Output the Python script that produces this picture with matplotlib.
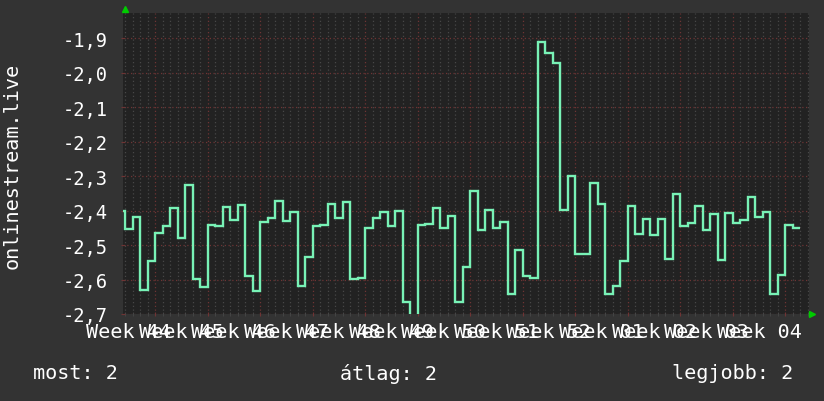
import numpy as np
import matplotlib
matplotlib.use("Agg")
import matplotlib.pyplot as plt
from matplotlib import transforms

# ---------------- data ----------------
day_start = -5  # first day index (day 0 = start of Week 45)
values = [
    -2.400, -2.453, -2.418, -2.630, -2.545,
    -2.464, -2.444, -2.391, -2.480, -2.324, -2.599, -2.623,
    -2.442, -2.444, -2.389, -2.426, -2.383, -2.589, -2.634,
    -2.432, -2.420, -2.372, -2.429, -2.404, -2.618, -2.534,
    -2.445, -2.441, -2.381, -2.420, -2.375, -2.598, -2.595,
    -2.449, -2.421, -2.403, -2.445, -2.401, -2.666, -2.705,
    -2.443, -2.440, -2.391, -2.449, -2.414, -2.666, -2.564,
    -2.344, -2.457, -2.399, -2.449, -2.434, -2.641, -2.515,
    -2.589, -2.595, -1.910, -1.941, -1.972, -2.399, -2.300,
    -2.525, -2.527, -2.320, -2.381, -2.641, -2.620, -2.545,
    -2.387, -2.469, -2.423, -2.471, -2.423, -2.539, -2.351,
    -2.445, -2.437, -2.387, -2.457, -2.411, -2.544, -2.406,
    -2.437, -2.428, -2.361, -2.419, -2.403, -2.641, -2.588,
    -2.443, -2.449,
]
week_labels = ["Week 44", "Week 45", "Week 46", "Week 47", "Week 48", "Week 49",
               "Week 50", "Week 51", "Week 52", "Week 01", "Week 02", "Week 03",
               "Week 04"]
ytick_values = [-1.9, -2.0, -2.1, -2.2, -2.3, -2.4, -2.5, -2.6, -2.7]
ytick_labels = ["-1,9", "-2,0", "-2,1", "-2,2", "-2,3", "-2,4", "-2,5", "-2,6", "-2,7"]
y_label = "onlinestream.live"
legend_items = ["most: 2", "átlag: 2", "legjobb: 2"]

# ---------------- style ----------------
BG = "#333333"
CANVAS = "#222222"
LINE = "#78f2b6"
MAJOR = "#6e3434"
MINOR = "#474747"
TXT = "#ffffff"
FONT = "DejaVu Sans Mono"

W, H = 824, 402
fig = plt.figure(figsize=(W / 100, H / 100), dpi=100, facecolor=BG)
ax = fig.add_axes([123.5 / W, 1 - 315 / H, (808.5 - 123.5) / W, (315 - 14) / H])
ax.set_facecolor(CANVAS)

edges = np.arange(day_start, day_start + len(values) + 1)
ax.stairs(values, edges, baseline=None, color=LINE, linewidth=1.7, zorder=3)

ax.set_xlim(-4.2, 87.1)
ax.set_ylim(-2.7, -1.826)

n_weeks = len(week_labels)
week_starts = np.arange(0, 7 * n_weeks, 7)
days = np.arange(-4, 88)
ax.set_xticks(week_starts)
ax.set_xticks(days, minor=True)
ax.set_xticklabels([])
ax.set_yticks(ytick_values)
ax.set_yticklabels(ytick_labels, fontsize=13.5, family=FONT, color=TXT)

ax.grid(True, which="major", color=MAJOR, linestyle=(0, (1, 2)), linewidth=0.9)
ax.grid(True, which="minor", axis="x", color=MINOR, linestyle=(0, (1, 2)), linewidth=0.9)
ax.set_axisbelow(True)

ax.tick_params(axis="x", which="major", length=3, direction="inout", color=MAJOR)
ax.tick_params(axis="x", which="minor", length=3, direction="inout", color=MINOR)
ax.tick_params(axis="y", which="major", length=3, direction="inout", color=MAJOR, pad=10)
for s in ax.spines.values():
    s.set_visible(False)

# week labels centred at mid-week
trans = transforms.blended_transform_factory(ax.transData, ax.transAxes)
for i, lab in enumerate(week_labels):
    ax.text(week_starts[i] - 3.5, -0.058, lab, transform=trans, ha="center", va="center",
            fontsize=14.5, family=FONT, color=TXT, clip_on=False)

# axis arrows
ax.plot([0.002], [1.013], marker="^", color="#00cc00", markersize=5,
        transform=ax.transAxes, clip_on=False, zorder=5)
ax.plot([1.005], [0.0], marker=">", color="#00cc00", markersize=5,
        transform=ax.transAxes, clip_on=False, zorder=5)

fig.text(12 / W, 1 - 166 / H, y_label, rotation=90, ha="center", va="center",
         fontsize=14.5, family=FONT, color=TXT)

fig.text(33 / W, 1 - 374 / H, legend_items[0], ha="left", va="center",
         fontsize=14.5, family=FONT, color=TXT)
fig.text(340 / W, 1 - 374 / H, legend_items[1], ha="left", va="center",
         fontsize=14.5, family=FONT, color=TXT)
fig.text(793 / W, 1 - 374 / H, legend_items[2], ha="right", va="center",
         fontsize=14.5, family=FONT, color=TXT)

fig.savefig("out.png", dpi=100, facecolor=BG)
